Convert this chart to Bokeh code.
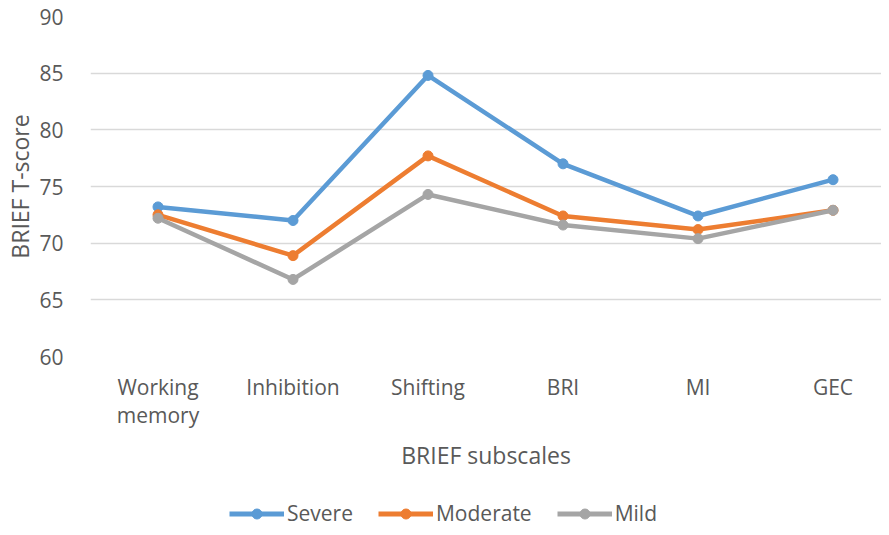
from bokeh.plotting import figure
from bokeh.layouts import column
from bokeh.models import Range1d, FixedTicker, Legend, LegendItem, ColumnDataSource
from bokeh.embed import file_html
from bokeh.resources import INLINE

categories = ["Working\nmemory", "Inhibition", "Shifting", "BRI", "MI", "GEC"]
severe = [73.2, 72.0, 84.8, 77.0, 72.4, 75.6]
moderate = [72.5, 68.9, 77.7, 72.4, 71.2, 72.9]
mild = [72.2, 66.8, 74.3, 71.6, 70.4, 72.9]
series_names = ["Severe", "Moderate", "Mild"]
colors = ["#5B9BD5", "#ED7D31", "#A5A5A5"]
y_ticks = [60, 65, 70, 75, 80, 85, 90]

FONT = "Open Sans"
TXT = "#595959"

p = figure(width=881, height=490, output_backend="svg", toolbar_location=None,
           x_range=Range1d(-0.5, 5.359), y_range=Range1d(60, 90),
           min_border_left=90, min_border_top=16, min_border_right=0, min_border_bottom=134)
p.outline_line_color = None
p.background_fill_color = "white"

xs = list(range(len(categories)))
sources = []
for name, vals, c in zip(series_names, [severe, moderate, mild], colors):
    src = ColumnDataSource(dict(x=xs, y=vals))
    sources.append(src)
    p.line("x", "y", source=src, line_color=c, line_width=4.5, line_join="round")
    p.scatter("x", "y", source=src, size=10, fill_color=c, line_color=c)

# axes
p.xaxis.ticker = FixedTicker(ticks=xs)
p.xaxis.major_label_overrides = {i: c for i, c in enumerate(categories)}
p.xaxis.axis_line_color = None
p.xaxis.major_tick_line_color = None
p.xaxis.minor_tick_line_color = None
p.xaxis.major_label_text_font = FONT
p.xaxis.major_label_text_font_size = "21px"
p.xaxis.major_label_text_color = TXT
p.xaxis.major_label_text_line_height = 1.0
p.xaxis.major_label_standoff = 10
p.xaxis.axis_label = "BRIEF subscales"
p.xaxis.axis_label_text_font = FONT
p.xaxis.axis_label_text_font_size = "23px"
p.xaxis.axis_label_text_font_style = "normal"
p.xaxis.axis_label_text_color = TXT
p.xaxis.axis_label_standoff = 7

p.yaxis.ticker = FixedTicker(ticks=y_ticks)
p.yaxis.axis_line_color = None
p.yaxis.major_tick_line_color = None
p.yaxis.minor_tick_line_color = None
p.yaxis.major_label_text_font = FONT
p.yaxis.major_label_text_font_size = "21px"
p.yaxis.major_label_text_color = TXT
p.yaxis.major_label_standoff = 21
p.yaxis.axis_label = "BRIEF T-score"
p.yaxis.axis_label_text_font = FONT
p.yaxis.axis_label_text_font_size = "23px"
p.yaxis.axis_label_text_font_style = "normal"
p.yaxis.axis_label_text_color = TXT
p.yaxis.axis_label_standoff = 0

p.xgrid.grid_line_color = None
p.ygrid.grid_line_color = "#D9D9D9"
p.ygrid.grid_line_width = 1.3

# legend strip below the chart (its renderers use the series data, which lie
# outside this strip's ranges, so only the legend itself is visible)
lg = figure(width=881, height=37, output_backend="svg", toolbar_location=None,
            x_range=Range1d(0, 1), y_range=Range1d(0, 1),
            x_axis_type=None, y_axis_type=None,
            min_border_left=0, min_border_right=0, min_border_top=0, min_border_bottom=0)
lg.outline_line_color = None
lg.xgrid.grid_line_color = None
lg.ygrid.grid_line_color = None
items = []
for name, src, c in zip(series_names, sources, colors):
    r1 = lg.line("x", "y", source=src, line_color=c, line_width=5)
    r2 = lg.scatter("x", "y", source=src, size=10, fill_color=c, line_color=c)
    items.append(LegendItem(label=name, renderers=[r1, r2]))

legend = Legend(items=items, orientation="horizontal", location=(139, 0))
legend.label_text_font = FONT
legend.label_text_font_size = "21px"
legend.label_text_color = TXT
legend.glyph_width = 55
legend.glyph_height = 25
legend.label_standoff = 3
legend.spacing = 25
legend.border_line_color = None
legend.background_fill_alpha = 0
legend.margin = 0
legend.padding = 0
lg.add_layout(legend, "center")

layout = column(p, lg, spacing=0)
open("out.html", "w").write(file_html(layout, INLINE))
